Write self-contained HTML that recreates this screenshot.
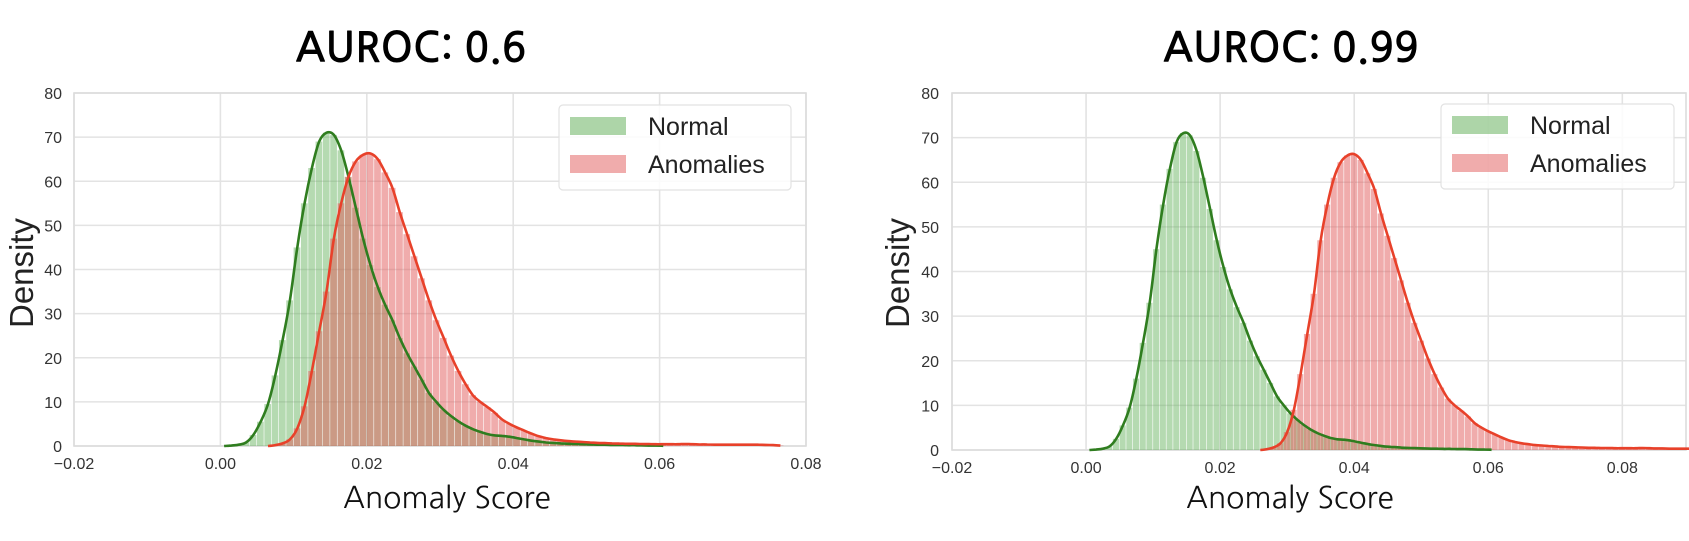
<!DOCTYPE html>
<html><head><meta charset="utf-8">
<style>
html,body{margin:0;padding:0;background:#fff;}
svg{display:block;}
</style></head>
<body>
<svg id="chart" width="1689" height="541" viewBox="0 0 1689 541" xmlns="http://www.w3.org/2000/svg"></svg>
<script>
// ----- data -----
const normalStart = 0.000;
const normalValues = [0,0.1,0.3,0.8,2.5,5.5,9.5,16,24,33,45,55,63,69,71,70.5,67,61,54,47,41,36,32,28.5,24.5,21,18,15,12,10,8.2,6.8,5.6,4.6,3.8,3.2,2.7,2.4,2.3,2.1,1.8,1.5,1.2,1,0.8,0.7,0.6,0.5,0.45,0.4,0.35,0.3,0.3,0.25,0.25,0.2,0.2,0.15,0.1,0.1,0.05];
const anomLeftStart = 0.006;
const anomLeftValues = [0,0.2,0.6,1.5,4,9,17,26,35,47,55,61,64.5,66,66.3,65,62,58.5,53,48,43,38,33,28.5,24.5,20.5,17,14,11.5,10,8.8,7.5,6,5,4.2,3.5,2.8,2.2,1.8,1.5,1.3,1.1,1,0.9,0.8,0.7,0.65,0.6,0.55,0.5,0.5,0.45,0.45,0.4,0.4,0.4,0.4,0.45,0.4,0.35,0.35,0.3,0.3,0.3,0.3,0.3,0.3,0.3,0.25,0.2,0.1];
const anomRightStart = 0.0255;
const anomRightValues = [0,0.2,0.6,1.5,4,9,17,26,35,47,55,61,64.5,66,66.3,65,62,58.5,53,48,43,38,33,28.5,24.5,20.5,17,14,11.5,10,8.8,7.5,6,5,4.2,3.5,2.8,2.2,1.8,1.5,1.3,1.1,1,0.9,0.8,0.7,0.65,0.6,0.55,0.5,0.5,0.45,0.45,0.4,0.4,0.4,0.4,0.45,0.4,0.35,0.35,0.3,0.3,0.3,0.3];
const binWidth = 0.001;
const xTicks = [-0.02,0.00,0.02,0.04,0.06,0.08];
const xTickLabels = ["\u22120.02","0.00","0.02","0.04","0.06","0.08"];
const yTicks = [0,10,20,30,40,50,60,70,80];
const titles = ["AUROC: 0.6","AUROC: 0.99"];
const legendLabels = ["Normal","Anomalies"];

const NS = "http://www.w3.org/2000/svg";
const svg = document.getElementById('chart');
function mk(tag, attrs, parent){
  const e = document.createElementNS(NS, tag);
  for (const k in attrs) e.setAttribute(k, attrs[k]);
  (parent||svg).appendChild(e);
  return e;
}
const panels = [
  {x0:74, x1:806, xmin:-0.02, xmax:0.08, yTop:93, yBot:446, anomStart:anomLeftStart, anomVals:anomLeftValues, tickRight:62, densX:21, titleX:411, leg:[559,105,232,85], labelX:447},
  {x0:952, x1:1686, xmin:-0.02, xmax:0.0895, yTop:93, yBot:450, anomStart:anomRightStart, anomVals:anomRightValues, tickRight:939, densX:897, titleX:1291, leg:[1441,104,233,85], labelX:1290}
];
panels.forEach((p, pi) => {
  const g = mk('g', {});
  
  
  const sx = v => p.x0 + (v - p.xmin) / (p.xmax - p.xmin) * (p.x1 - p.x0);
  const sy = v => p.yBot - v / 80 * (p.yBot - p.yTop);
  yTicks.forEach(t => {
    const l = mk('line', {x1:p.x0, x2:p.x1, y1:sy(t), y2:sy(t), stroke:'#e3e3e3', 'stroke-width':1.6}, g);
    
    
    const tx = mk('text', {x:p.tickRight, y:sy(t)+6, 'text-anchor':'end', 'font-family':'Liberation Sans, sans-serif', 'font-size':16, fill:'#333'}, g);
    tx.textContent = t;
    
    
  });
  xTicks.forEach((t, i) => {
    if (t > p.xmax) return;
    const l = mk('line', {x1:sx(t), x2:sx(t), y1:p.yTop, y2:p.yBot, stroke:'#e3e3e3', 'stroke-width':1.6}, g);
    
    
    const tx = mk('text', {x:sx(t), y:p.yBot+23, 'text-anchor':'middle', 'font-family':'Liberation Sans, sans-serif', 'font-size':16, fill:'#333'}, g);
    tx.textContent = xTickLabels[i];
    
    
  });
  const fr = mk('rect', {x:p.x0, y:p.yTop, width:p.x1-p.x0, height:p.yBot-p.yTop, fill:'none', stroke:'#dcdcdc', 'stroke-width':1.6}, g);
  
  
  function bars(start, vals, color, name){
    vals.forEach((v, i) => {
      const a = start + i * binWidth;
      const xa = sx(a), xb = sx(a + binWidth);
      const r = mk('rect', {x:xa, y:sy(v), width:Math.max(0.5, xb-xa-0.6), height:p.yBot - sy(v), fill:color}, g);
      
      
    });
  }
  bars(normalStart, normalValues, 'rgba(92,172,82,0.45)', 'normal-hist-bar');
  bars(p.anomStart, p.anomVals, 'rgba(226,90,90,0.5)', 'anomaly-hist-bar');
  function line(start, vals, color, name){
    const pts = vals.map((v, i) => [sx(start + (i + 0.5) * binWidth), sy(v)]);
    let d = 'M' + pts[0][0].toFixed(1) + ',' + pts[0][1].toFixed(1);
    for (let i = 0; i < pts.length - 1; i++) {
      const p0 = pts[Math.max(0, i-1)], p1 = pts[i], p2 = pts[i+1], p3 = pts[Math.min(pts.length-1, i+2)];
      const c1x = p1[0] + (p2[0]-p0[0])/6, c1y = p1[1] + (p2[1]-p0[1])/6;
      const c2x = p2[0] - (p3[0]-p1[0])/6, c2y = p2[1] - (p3[1]-p1[1])/6;
      d += ' C' + c1x.toFixed(1) + ',' + c1y.toFixed(1) + ' ' + c2x.toFixed(1) + ',' + c2y.toFixed(1) + ' ' + p2[0].toFixed(1) + ',' + p2[1].toFixed(1);
    }
    const pa = mk('path', {d:d, fill:'none', stroke:color, 'stroke-width':2.6, 'stroke-linejoin':'round'}, g);
    
    
  }
  line(normalStart, normalValues, '#2f7d1f', 'normal-kde-line');
  line(p.anomStart, p.anomVals, '#e8412a', 'anomaly-kde-line');
  const [lx, ly, lw, lh] = p.leg;
  const lg = mk('g', {}, g);
  
  
  mk('rect', {x:lx, y:ly, width:lw, height:lh, rx:4, fill:'rgba(255,255,255,0.85)', stroke:'#e2e2e2', 'stroke-width':1.2}, lg);
  const cols = ['rgba(92,172,82,0.5)', 'rgba(226,90,90,0.5)'];
  legendLabels.forEach((lab, i) => {
    const sw = mk('rect', {x:lx+11, y:ly+12+i*38, width:56, height:18, fill:cols[i]}, lg);
    
    
    const t = mk('text', {x:lx+89, y:ly+30+i*38, 'font-family':'Liberation Sans, sans-serif', 'font-size':25, fill:'#222'}, lg);
    t.textContent = lab;
    
    
  });
  const yl = mk('text', {x:0, y:0, transform:'translate(' + (p.densX+12) + ',' + 273 + ') rotate(-90)', 'text-anchor':'middle', 'font-family':'Liberation Sans, sans-serif', 'font-size':33, fill:'#222'}, g);
  yl.textContent = 'Density';
  
  
  const xl = mk('text', {x:p.labelX, y:508, 'text-anchor':'middle', 'font-family':'NanumGothic, Liberation Sans, sans-serif', 'font-size':30, fill:'#111'}, g);
  xl.textContent = 'Anomaly Score';
  
  
  const tt = mk('text', {x:p.titleX, y:62, 'text-anchor':'middle', 'font-family':'NanumGothic, Liberation Sans, sans-serif', 'font-size':41, 'font-weight':'bold', fill:'#000'}, g);
  tt.textContent = titles[pi];
  
  
});
</script>
</body></html>
